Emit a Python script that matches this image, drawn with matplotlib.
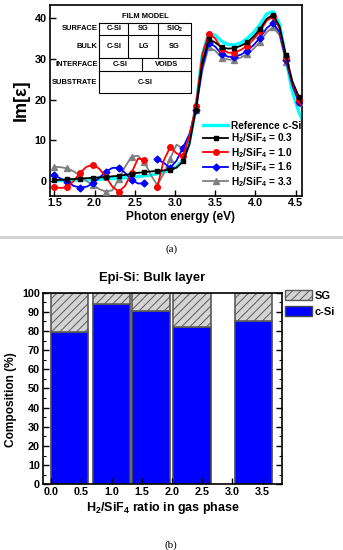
import matplotlib
matplotlib.use("Agg")
import matplotlib.pyplot as plt
import numpy as np
from matplotlib.patches import Patch

plt.rcParams['font.family'] = ['Liberation Sans', 'DejaVu Sans']
plt.rcParams['font.weight'] = 'bold'
plt.rcParams['mathtext.default'] = 'regular'
plt.rcParams['hatch.linewidth'] = 0.7

### (a) Im[eps] spectra ###
energy = [1.50, 1.58, 1.66, 1.74, 1.82, 1.90, 1.98, 2.06, 2.14, 2.22,
          2.30, 2.38, 2.46, 2.54, 2.62, 2.70, 2.78, 2.86, 2.94, 3.02,
          3.10, 3.18, 3.26, 3.34, 3.42, 3.50, 3.58, 3.66, 3.74, 3.82,
          3.90, 3.98, 4.06, 4.14, 4.22, 4.30, 4.38, 4.46, 4.54, 4.62]
ref_csi = [0.1, 0.12, 0.15, 0.2, 0.25, 0.3, 0.35, 0.42, 0.5, 0.6,
           0.7, 0.8, 0.95, 1.1, 1.3, 1.5, 1.8, 2.2, 2.7, 3.5,
           5.2, 9.5, 18.0, 31.0, 36.3, 35.8, 34.3, 33.5, 33.4, 33.9,
           35.0, 36.5, 38.5, 41.0, 41.6, 38.5, 30.0, 22.0, 17.0, 13.5]
r03 = [0.2, 0.3, 0.4, 0.5, 0.6, 0.7, 0.8, 0.9, 1.0, 1.15,
       1.3, 1.5, 1.8, 2.0, 2.2, 2.35, 2.5, 2.6, 2.8, 3.3,
       4.8, 9.0, 17.5, 29.0, 34.8, 34.0, 32.8, 32.5, 32.6, 33.2,
       34.0, 35.5, 37.4, 39.8, 40.8, 38.0, 30.9, 24.5, 20.7, 17.0]
r10 = [-1.5, -1.7, -1.5, 0.0, 2.0, 3.5, 4.0, 3.0, 1.0, -1.3,
       -2.6, -1.2, 2.0, 5.5, 5.2, np.nan, -1.5, 5.0, 8.3, 6.8,
       6.2, 11.0, 18.5, 31.0, 36.2, 35.0, 32.5, 31.5, 31.5, 32.2,
       33.2, 34.8, 36.8, 39.3, 40.4, 37.5, 30.5, 24.0, 20.0, 16.5]
r16 = [1.4, 0.6, -0.2, -1.2, -1.6, -1.4, -0.6, 0.8, 2.3, 3.2,
       3.3, 2.0, 0.3, -0.6, -0.6, np.nan, 5.3, 4.5, 3.2, 5.0,
       8.2, 11.5, 17.5, 28.0, 33.9, 33.0, 31.2, 30.5, 30.5, 31.0,
       32.0, 33.4, 35.2, 37.5, 38.8, 36.5, 29.8, 23.5, 19.5, 16.5]
r33 = [3.5, 3.4, 3.1, 2.4, 1.3, 0.0, -1.0, -2.0, -2.6, -2.3,
       0.4, 3.5, 6.0, 6.2, 4.7, 1.5, -1.0, 1.8, 5.5, 8.9,
       8.0, 10.5, 17.5, 27.0, 32.9, 32.0, 30.3, 29.8, 29.8, 30.3,
       31.2, 32.5, 34.2, 36.5, 37.8, 35.8, 29.3, 23.5, 19.5, 16.5]

### (b) bulk layer composition ###
ratio_pos = [0.3, 1.0, 1.65, 2.33, 3.35]
csi_frac = [79.6, 93.9, 90.6, 82.3, 85.4]
sg_frac = [20.4, 6.1, 9.4, 17.7, 14.6]

W, H = 343, 550
fig = plt.figure(figsize=(W / 100, H / 100), dpi=100)

def box(l, t, r, b):
    # pixel box -> figure fraction rect
    return [l / W, 1 - b / H, (r - l) / W, (b - t) / H]

### panel (a) ###
ax = fig.add_axes(box(49.5, 5, 302, 195.7))
ax.plot(energy, ref_csi, color='#00ffff', lw=2.4, label='Reference c-Si', zorder=2)
ax.plot(energy, r33, color='#808080', lw=1.3, marker='^', ms=4, markevery=2,
        label='H$_2$/SiF$_4$ = 3.3', zorder=3)
ax.plot(energy, r16, color='#0000ff', lw=1.3, marker='D', ms=3.5, markevery=2,
        label='H$_2$/SiF$_4$ = 1.6', zorder=4)
ax.plot(energy, r10, color='#ff0000', lw=1.3, marker='o', ms=4, markevery=2,
        label='H$_2$/SiF$_4$ = 1.0', zorder=5)
ax.plot(energy, r03, color='black', lw=1.3, marker='s', ms=3.5, markevery=2,
        label='H$_2$/SiF$_4$ = 0.3', zorder=6)
ax.set_xlim(1.44, 4.58)
ax.set_ylim(-3.6, 43.2)
ax.set_xticks([1.5, 2.0, 2.5, 3.0, 3.5, 4.0, 4.5])
ax.set_yticks([0, 10, 20, 30, 40])
ax.tick_params(direction='in', length=4, width=1, labelsize=7.8, pad=2)
for s in ax.spines.values():
    s.set_linewidth(1.2)

h, l = ax.get_legend_handles_labels()
order = [0, 4, 3, 2, 1]
ax.legend([h[i] for i in order], [l[i] for i in order], loc='upper left',
          bbox_to_anchor=(203 / W, 1 - 121 / H), bbox_transform=fig.transFigure,
          frameon=False, fontsize=7.3, handlelength=2.5, handletextpad=0.3,
          labelspacing=0.06, borderpad=0, borderaxespad=0, numpoints=1)

### panel (b) ###
bx = fig.add_axes(box(42.8, 292.7, 282, 484.3))
bx.bar(ratio_pos, csi_frac, width=0.62, color='#0000ff', edgecolor='#4a4a4a', lw=1.2)
bx.bar(ratio_pos, sg_frac, width=0.62, bottom=csi_frac, color='#d4d4d4',
       edgecolor='#5a5a5a', hatch='////', lw=1.2)
bx.set_xlim(-0.14, 3.82)
bx.set_ylim(0, 100)
bx.set_xticks(np.arange(0, 3.6, 0.5))
bx.set_xticklabels(['0.0', '0.5', '1.0', '1.5', '2.0', '2.5', '3.0', '3.5'])
bx.set_yticks(range(0, 101, 10))
bx.set_yticks(range(5, 100, 10), minor=True)
bx.tick_params(direction='in', length=4, width=1, labelsize=7.8, pad=2,
               right=True)
bx.tick_params(which='minor', direction='in', length=2, width=0.8, right=True)
for s in bx.spines.values():
    s.set_linewidth(1.2)
bx.legend([Patch(facecolor='#d4d4d4', edgecolor='#5a5a5a', hatch='////'),
           Patch(facecolor='#0000ff', edgecolor='#4a4a4a')], ['SG', 'c-Si'],
          loc='upper left', bbox_to_anchor=(285 / W, 1 - 290 / H),
          bbox_transform=fig.transFigure, frameon=False, fontsize=8,
          handlelength=2.4, handleheight=1.0, handletextpad=0.3,
          labelspacing=0.45, borderpad=0, borderaxespad=0)

### overlay in pixel coords: labels, inset table, captions ###
ov = fig.add_axes([0, 0, 1, 1])
ov.set_xlim(0, W)
ov.set_ylim(H, 0)
ov.axis('off')

ov.text(21, 100, 'Im[ε]', rotation=90, fontsize=13, ha='center', va='center')
ov.text(181, 217, 'Photon energy (eV)', fontsize=8.6, ha='center', va='center')
ov.plot([0, W], [237, 237], color='#cfcfcf', lw=2)
ov.text(172, 249.5, '(a)', family='Liberation Serif', weight='normal',
        fontsize=8, ha='center', va='center')

ov.text(152, 278, 'Epi-Si: Bulk layer', fontsize=9.4, ha='center', va='center')
ov.text(11.5, 400, 'Composition (%)', rotation=90, fontsize=8.6,
        ha='center', va='center')
ov.text(163, 508, 'H$_2$/SiF$_4$ ratio in gas phase', fontsize=9,
        ha='center', va='center')
ov.text(171, 545, '(b)', family='Liberation Serif', weight='normal',
        fontsize=8, ha='center', va='center')

# film model table
tf = dict(fontsize=5.4, weight='bold', va='center')
ov.text(145, 16, 'FILM MODEL', ha='center', **tf)
tl, tr = 99.3, 190.7
rows = [22.7, 35, 58.3, 70.7, 93.3]
ov.plot([tl, tr, tr, tl, tl], [rows[0], rows[0], rows[-1], rows[-1], rows[0]],
        color='black', lw=0.8)
for y in rows[1:-1]:
    ov.plot([tl, tr], [y, y], color='black', lw=0.8)
for x in [128.3, 158.3]:
    ov.plot([x, x], [rows[0], rows[2]], color='black', lw=0.8)
ov.plot([141.7, 141.7], [rows[2], rows[3]], color='black', lw=0.8)

for lab, y in zip(['SURFACE', 'BULK', 'INTERFACE', 'SUBSTRATE'], [29, 46, 64.5, 82]):
    ov.text(97.5, y, lab, ha='right', **tf)
for lab, x in zip(['C-SI', 'SG', 'SIO$_2$'], [113.8, 143.3, 174.5]):
    ov.text(x, 29, lab, ha='center', **tf)
for lab, x in zip(['C-SI', 'LG', 'SG'], [113.8, 143.3, 174.5]):
    ov.text(x, 46, lab, ha='center', **tf)
ov.text(120.5, 64.5, 'C-SI', ha='center', **tf)
ov.text(166.2, 64.5, 'VOIDS', ha='center', **tf)
ov.text(145, 82, 'C-SI', ha='center', **tf)

fig.savefig('out.png', dpi=100)
